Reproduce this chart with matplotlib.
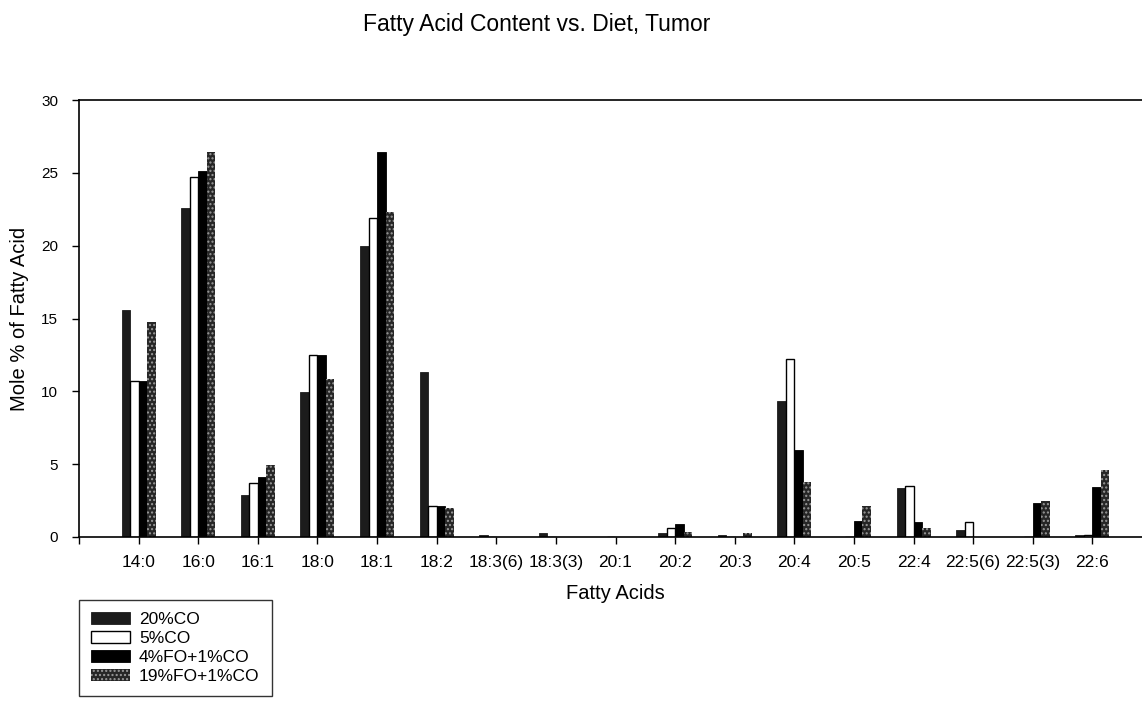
import numpy as np
import matplotlib
matplotlib.use("Agg")
import matplotlib.pyplot as plt

plt.rcParams['font.family'] = ['Liberation Sans', 'DejaVu Sans']

# data (mole % of fatty acid, tumor)
acids = ["14:0", "16:0", "16:1", "18:0", "18:1", "18:2", "18:3(6)", "18:3(3)",
         "20:1", "20:2", "20:3", "20:4", "20:5", "22:4", "22:5(6)", "22:5(3)", "22:6"]
co20 = [15.6, 22.6, 2.9, 9.95, 20.0, 11.3, 0.15, 0.3, 0.0, 0.3, 0.15, 9.35, 0.0, 3.35, 0.45, 0.0, 0.15]
co5 = [10.7, 24.7, 3.7, 12.5, 21.9, 2.1, 0.0, 0.0, 0.0, 0.6, 0.0, 12.2, 0.0, 3.5, 1.0, 0.0, 0.15]
fo4 = [10.7, 25.1, 4.1, 12.5, 26.4, 2.1, 0.0, 0.0, 0.0, 0.9, 0.0, 6.0, 1.1, 1.0, 0.0, 2.3, 3.4]
fo19 = [14.75, 26.4, 4.95, 10.85, 22.3, 2.0, 0.0, 0.0, 0.0, 0.35, 0.3, 3.75, 2.1, 0.65, 0.0, 2.5, 4.6]
series_names = ["20%CO", "5%CO", "4%FO+1%CO", "19%FO+1%CO"]

W, H = 1142, 707
fig = plt.figure(figsize=(W/100, H/100), dpi=100)
# axes box in pixels: left 79, top 100, bottom 537; the right end runs past the page edge
ax = fig.add_axes([79/W, 1-537/H, (1152-79)/W, (537-100)/H])

x = np.arange(len(acids))
w = 0.143
styles = [
    dict(facecolor="#1c1c1c", edgecolor="#1c1c1c", linewidth=0.6),
    dict(facecolor="white", edgecolor="black", linewidth=1.0),
    dict(facecolor="black", edgecolor="black", linewidth=0.6),
    dict(facecolor="#262626", edgecolor="#9a9a9a", linewidth=0.0, hatch="...."),
]
for k, vals in enumerate([co20, co5, fo4, fo19]):
    ax.bar(x + (k - 1.5) * w, vals, width=w, label=series_names[k], **styles[k])

ax.set_xlim(-1.0, 17.0)
ax.set_ylim(0, 30)
ax.set_yticks(range(0, 31, 5))
ax.set_xticks(x)
ax.set_xticklabels(acids)
ax.set_xticks([-1.0], minor=True)
ax.tick_params(axis='x', which='both', direction='out', length=5, width=1, labelsize=12.5, pad=8)
ax.tick_params(axis='y', direction='out', length=5, width=1, labelsize=11, pad=10)
ax.spines['right'].set_visible(False)
for s in ['left', 'bottom', 'top']:
    ax.spines[s].set_linewidth(1.2)

ax.set_xlabel("Fatty Acids", fontsize=14.5, labelpad=10)
ax.set_ylabel("Mole % of Fatty Acid", fontsize=14.5, labelpad=9)
fig.text(537/W, 1-24/H, "Fatty Acid Content vs. Diet, Tumor", ha='center', va='center', fontsize=16.5)

leg = fig.legend(loc='upper left', bbox_to_anchor=(79/W, 1-600/H), frameon=True,
                 fancybox=False, edgecolor='black', fontsize=12.5, handlelength=2.25,
                 handleheight=0.7, handletextpad=0.5, labelspacing=0.22, borderpad=0.7,
                 borderaxespad=0)
leg.get_frame().set_linewidth(1.0)

fig.savefig("out.png", dpi=100)
